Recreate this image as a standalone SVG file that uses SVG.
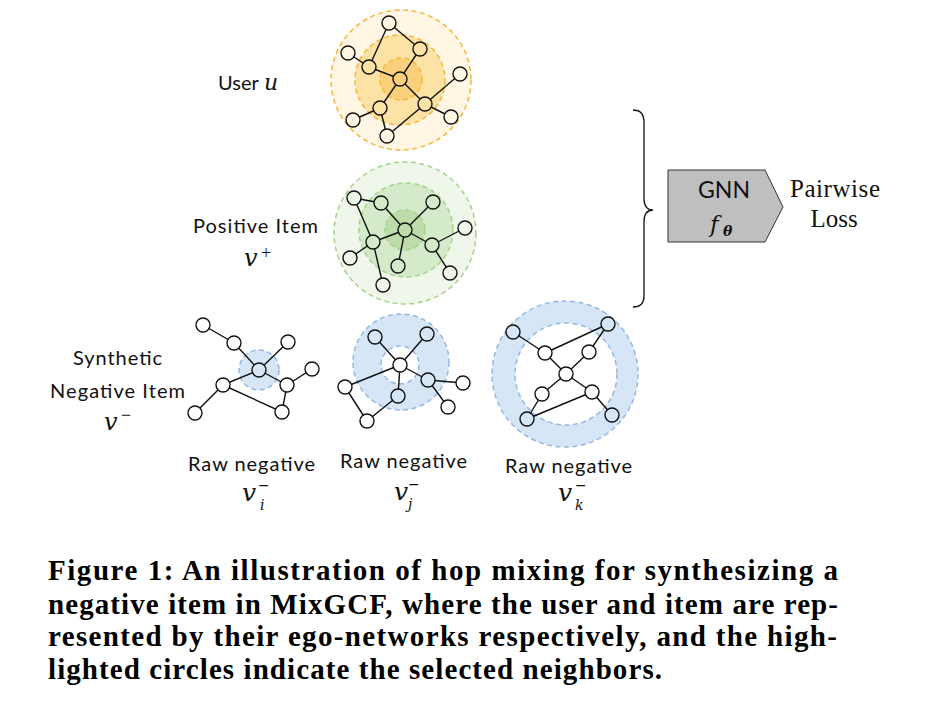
<svg xmlns="http://www.w3.org/2000/svg" width="925" height="719" viewBox="0 0 925 719">
<style>
.bg{fill:#fff}
.hop{stroke-width:1.5;stroke-dasharray:5 3.5}
.o{stroke:#f6b73a}
.g{stroke:#a5d38b}
.b{stroke:#93b9e3}
.e line{stroke:#111;stroke-width:1.4}
.n circle{stroke:#111;stroke-width:1.4;fill:#fff}
.sans{font-family:Lato,"Open Sans","Liberation Sans",sans-serif;font-size:20px;fill:#111}
.math{font-family:"DejaVu Serif","Liberation Serif",serif;font-style:italic;fill:#111}
.ser{font-family:"Liberation Serif","DejaVu Serif",serif;fill:#111}
.mn{font-family:"DejaVu Serif",serif;font-size:14px;fill:#111}
.cap{font-family:"Liberation Serif",serif;font-weight:bold;font-size:29px;fill:#000}
</style>
<rect class="bg" x="0" y="0" width="925" height="719"/>

<g id="user-hops">
<circle class="hop o" cx="401" cy="80" r="70" fill="#fff6e4"/>
<circle class="hop o" cx="400" cy="80" r="45" fill="#fde2a6"/>
<circle class="hop o" cx="401" cy="79" r="21" fill="#fbd07a"/>
</g>
<g id="positive-hops">
<circle class="hop g" cx="405" cy="233" r="71" fill="#eff7ea"/>
<circle class="hop g" cx="406" cy="230" r="47" fill="#d5eac8"/>
<circle class="hop g" cx="405" cy="230" r="20" fill="#bddcaa"/>
</g>
<g id="synthetic-hops">
<circle class="hop b" cx="259" cy="370" r="20" fill="#d7e6f6"/>
</g>
<g id="rawj-hops">
<circle class="hop b" cx="401" cy="362" r="48" fill="#d7e6f6"/>
<circle class="hop b" cx="400" cy="365" r="19" fill="#fff"/>
</g>
<g id="rawk-hops">
<circle class="hop b" cx="565" cy="374" r="73" fill="#d7e6f6"/>
<circle class="hop b" cx="566" cy="374" r="51" fill="#fff"/>
</g>

<g id="connectors" class="e">
<!-- user -->
<line x1="389" y1="23" x2="420" y2="49"/>
<line x1="389" y1="23" x2="369" y2="67"/>
<line x1="348" y1="53" x2="369" y2="67"/>
<line x1="369" y1="67" x2="400" y2="79"/>
<line x1="420" y1="49" x2="400" y2="79"/>
<line x1="400" y1="79" x2="380" y2="108"/>
<line x1="400" y1="79" x2="425" y2="104"/>
<line x1="425" y1="104" x2="460" y2="74"/>
<line x1="425" y1="104" x2="451" y2="117"/>
<line x1="425" y1="104" x2="387" y2="136"/>
<line x1="380" y1="108" x2="353" y2="120"/>
<line x1="380" y1="108" x2="387" y2="136"/>
<!-- positive -->
<line x1="354" y1="198" x2="381" y2="203"/>
<line x1="354" y1="198" x2="373" y2="242"/>
<line x1="381" y1="203" x2="405" y2="230"/>
<line x1="433" y1="202" x2="405" y2="230"/>
<line x1="405" y1="230" x2="373" y2="242"/>
<line x1="405" y1="230" x2="432" y2="245"/>
<line x1="405" y1="230" x2="398" y2="266"/>
<line x1="432" y1="245" x2="465" y2="228"/>
<line x1="432" y1="245" x2="450" y2="273"/>
<line x1="373" y1="242" x2="350" y2="258"/>
<line x1="373" y1="242" x2="383" y2="285"/>
<!-- synthetic -->
<line x1="203" y1="325" x2="234" y2="343"/>
<line x1="234" y1="343" x2="259" y2="370"/>
<line x1="288" y1="342" x2="259" y2="370"/>
<line x1="259" y1="370" x2="223" y2="385"/>
<line x1="259" y1="370" x2="287" y2="385"/>
<line x1="287" y1="385" x2="312" y2="369"/>
<line x1="287" y1="385" x2="282" y2="412"/>
<line x1="223" y1="385" x2="282" y2="412"/>
<line x1="223" y1="385" x2="195" y2="413"/>
<!-- raw j -->
<line x1="400" y1="365" x2="375" y2="337"/>
<line x1="400" y1="365" x2="427" y2="334"/>
<line x1="400" y1="365" x2="428" y2="380"/>
<line x1="400" y1="365" x2="398" y2="396"/>
<line x1="400" y1="365" x2="345" y2="387"/>
<line x1="428" y1="380" x2="463" y2="383"/>
<line x1="428" y1="380" x2="448" y2="407"/>
<line x1="345" y1="387" x2="367" y2="421"/>
<line x1="367" y1="421" x2="398" y2="396"/>
<!-- raw k -->
<line x1="513" y1="332" x2="545" y2="353"/>
<line x1="545" y1="353" x2="566" y2="374"/>
<line x1="545" y1="353" x2="608" y2="324"/>
<line x1="608" y1="324" x2="589" y2="352"/>
<line x1="589" y1="352" x2="566" y2="374"/>
<line x1="566" y1="374" x2="542" y2="394"/>
<line x1="566" y1="374" x2="592" y2="392"/>
<line x1="542" y1="394" x2="527" y2="419"/>
<line x1="592" y1="392" x2="527" y2="419"/>
<line x1="592" y1="392" x2="612" y2="415"/>
<!-- brace -->
<path d="M633,110 Q644,110 644,122 L644,198 Q644,210 653,210 Q644,210 644,222 L644,296 Q644,307 633,307" fill="none" stroke="#111" stroke-width="1.3"/>
</g>

<g id="user-nodes" class="n">
<circle id="u0" cx="400" cy="79" r="7" style="fill:#fbd07a"/>
<circle id="u1" cx="389" cy="23" r="7" style="fill:#fff6e4"/>
<circle id="u2" cx="420" cy="49" r="7" style="fill:#fde2a6"/>
<circle id="u3" cx="348" cy="53" r="7" style="fill:#fff6e4"/>
<circle id="u4" cx="369" cy="67" r="7" style="fill:#fde2a6"/>
<circle id="u5" cx="460" cy="74" r="7" style="fill:#fff6e4"/>
<circle id="u6" cx="425" cy="104" r="7" style="fill:#fde2a6"/>
<circle id="u7" cx="380" cy="108" r="7" style="fill:#fde2a6"/>
<circle id="u8" cx="353" cy="120" r="7" style="fill:#fff6e4"/>
<circle id="u9" cx="387" cy="136" r="7" style="fill:#fff6e4"/>
<circle id="u10" cx="451" cy="117" r="7" style="fill:#fff6e4"/>
</g>
<g id="positive-nodes" class="n">
<circle id="p0" cx="405" cy="230" r="7" style="fill:#bddcaa"/>
<circle id="p1" cx="354" cy="198" r="7" style="fill:#eff7ea"/>
<circle id="p2" cx="381" cy="203" r="7" style="fill:#d5eac8"/>
<circle id="p3" cx="433" cy="202" r="7" style="fill:#d5eac8"/>
<circle id="p4" cx="465" cy="228" r="7" style="fill:#eff7ea"/>
<circle id="p5" cx="432" cy="245" r="7" style="fill:#d5eac8"/>
<circle id="p6" cx="373" cy="242" r="7" style="fill:#d5eac8"/>
<circle id="p7" cx="350" cy="258" r="7" style="fill:#eff7ea"/>
<circle id="p8" cx="398" cy="266" r="7" style="fill:#d5eac8"/>
<circle id="p9" cx="383" cy="285" r="7" style="fill:#eff7ea"/>
<circle id="p10" cx="450" cy="273" r="7" style="fill:#eff7ea"/>
</g>
<g id="synthetic-nodes" class="n">
<circle id="s0" cx="259" cy="370" r="7" style="fill:#d7e6f6"/>
<circle id="s1" cx="203" cy="325" r="7"/>
<circle id="s2" cx="234" cy="343" r="7"/>
<circle id="s3" cx="288" cy="342" r="7"/>
<circle id="s4" cx="312" cy="369" r="7"/>
<circle id="s5" cx="287" cy="385" r="7"/>
<circle id="s6" cx="223" cy="385" r="7"/>
<circle id="s7" cx="195" cy="413" r="7"/>
<circle id="s8" cx="282" cy="412" r="7"/>
</g>
<g id="rawj-nodes" class="n">
<circle id="j0" cx="400" cy="365" r="7"/>
<circle id="j1" cx="375" cy="337" r="7" style="fill:#d7e6f6"/>
<circle id="j2" cx="427" cy="334" r="7" style="fill:#d7e6f6"/>
<circle id="j3" cx="428" cy="380" r="7" style="fill:#d7e6f6"/>
<circle id="j4" cx="463" cy="383" r="7"/>
<circle id="j5" cx="448" cy="407" r="7"/>
<circle id="j6" cx="398" cy="396" r="7" style="fill:#d7e6f6"/>
<circle id="j7" cx="345" cy="387" r="7"/>
<circle id="j8" cx="367" cy="421" r="7"/>
</g>
<g id="rawk-nodes" class="n">
<circle id="k0" cx="566" cy="374" r="7"/>
<circle id="k1" cx="513" cy="332" r="7" style="fill:#d7e6f6"/>
<circle id="k2" cx="545" cy="353" r="7"/>
<circle id="k3" cx="608" cy="324" r="7" style="fill:#d7e6f6"/>
<circle id="k4" cx="589" cy="352" r="7"/>
<circle id="k5" cx="542" cy="394" r="7"/>
<circle id="k6" cx="592" cy="392" r="7"/>
<circle id="k7" cx="527" cy="419" r="7" style="fill:#d7e6f6"/>
<circle id="k8" cx="612" cy="415" r="7" style="fill:#d7e6f6"/>
</g>

<g id="gnn">
<polygon points="668,170 765,170 783,207 765,242 668,242" fill="#bfbfbf" stroke="#333" stroke-width="1"/>
<text class="sans" x="724" y="198" text-anchor="middle" style="font-size:23px">GNN</text>
<text class="math" x="710" y="232" style="font-size:23px">f</text>
<text class="math" x="723" y="236" style="font-size:14px;font-weight:bold">θ</text>
</g>
<g id="loss">
<text class="ser" x="790" y="197" style="font-size:25px" textLength="90">Pairwise</text>
<text class="ser" x="834" y="227" text-anchor="middle" style="font-size:25px">Loss</text>
</g>

<g id="labels">
<text class="sans" x="218" y="90">User</text>
<text class="math" x="264" y="90" style="font-size:22px">u</text>
<text class="sans" x="193" y="233" textLength="125">Positive Item</text>
<text class="math" x="244" y="266" style="font-size:24px">v</text>
<text class="ser" x="261" y="259" style="font-size:18px">+</text>
<text class="sans" x="73" y="365" textLength="89">Synthetic</text>
<text class="sans" x="50" y="398" textLength="135">Negative Item</text>
<text class="math" x="104" y="430" style="font-size:24px">v</text>
<text class="ser" x="121" y="421" style="font-size:18px">−</text>
<text class="sans" x="188" y="471" textLength="127">Raw negative</text>
<text class="sans" x="340" y="468" textLength="127">Raw negative</text>
<text class="sans" x="505" y="473" textLength="127">Raw negative</text>
<text class="math" x="242" y="501" style="font-size:25px">v</text>
<text class="math" x="260" y="510" style="font-size:14px">i</text>
<text class="mn" x="258" y="490">−</text>
<text class="math" x="394" y="500" style="font-size:25px">v</text>
<text class="math" x="408" y="509" style="font-size:14px">j</text>
<text class="mn" x="408" y="489">−</text>
<text class="math" x="558" y="501" style="font-size:25px">v</text>
<text class="math" x="575" y="510" style="font-size:14px">k</text>
<text class="mn" x="575" y="490">−</text>
</g>

<g id="caption">
<text class="cap" x="48" y="580" textLength="790">Figure 1: An illustration of hop mixing for synthesizing a</text>
<text class="cap" x="48" y="614" textLength="790">negative item in MixGCF, where the user and item are rep-</text>
<text class="cap" x="48" y="646" textLength="789">resented by their ego-networks respectively, and the high-</text>
<text class="cap" x="48" y="679" textLength="614">lighted circles indicate the selected neighbors.</text>
</g>
</svg>
